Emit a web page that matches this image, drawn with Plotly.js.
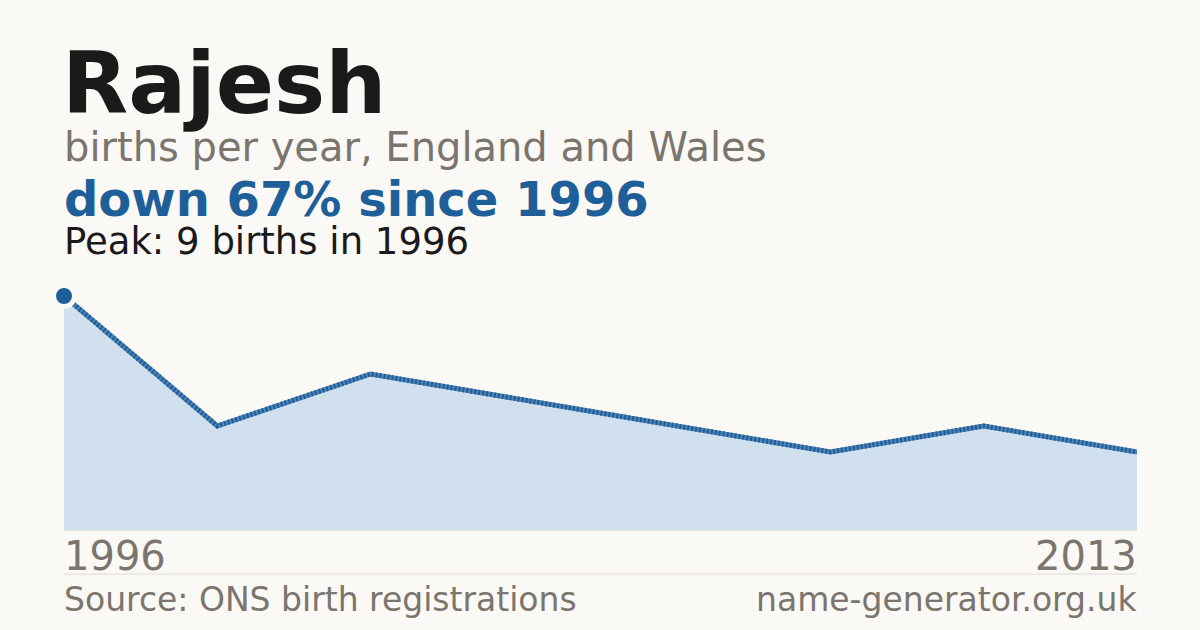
<!DOCTYPE html>
<html>
<head>
<meta charset="utf-8">
<script src="https://cdn.plot.ly/plotly-3.0.1.min.js"></script>
<style>html,body{margin:0;padding:0;background:#faf9f5;}#chart{width:1200px;height:630px;}</style>
</head>
<body>
<div id="chart"></div>
<script>
const nameTitle = "Rajesh";
const subtitle = "births per year, England and Wales";
const changeText = "down 67% since 1996";
const peakText = "Peak: 9 births in 1996";
const firstYear = "1996";
const lastYear = "2013";
const sourceText = "Source: ONS birth registrations";
const siteText = "name-generator.org.uk";
const births = [9, 4, 6, 5, 4, 3, 4, 3];
const idx = births.map((_, i) => i);
const peakIndex = 0;

const L = 64, R = 1137, T = 296, B = 530;
const W = 1200, H = 630;
const px = x => (x - L) / (R - L);
const py = y => (B - y) / (B - T);
const FONT = "DejaVu Sans";
const grey = "#7a756d";
const blue = "#1f5f99";
const bg = "#faf9f5";

const traces = [
  {x: idx, y: births, type: "scatter", mode: "lines", fill: "tozeroy",
   fillcolor: "#d0e0ef", line: {color: "#4f82b5", width: 5}, hoverinfo: "skip", cliponaxis: false},
  {x: idx, y: births, type: "scatter", mode: "lines",
   line: {color: blue, width: 5, dash: "2px,2px"}, hoverinfo: "skip", cliponaxis: false},
  {x: [idx[peakIndex]], y: [births[peakIndex]], type: "scatter", mode: "markers",
   marker: {size: 21, color: blue, line: {color: bg, width: 5}}, hoverinfo: "skip", cliponaxis: false}
];

function ann(text, x, y, size, color, bold, xanchor) {
  return {text: bold ? "<b>" + text + "</b>" : text, x: px(x), y: py(y), xref: "paper", yref: "paper",
    xanchor: xanchor || "left", yanchor: "middle", showarrow: false,
    font: {family: FONT, size: size, color: color}};
}

const layout = {
  width: W, height: H,
  paper_bgcolor: bg, plot_bgcolor: bg,
  margin: {l: L, r: W - R, t: T, b: H - B, pad: 0},
  showlegend: false,
  xaxis: {range: [0, births.length - 1], showgrid: false, zeroline: false, showticklabels: false,
          showline: true, linecolor: "#e8e1d6", linewidth: 1, fixedrange: true},
  yaxis: {range: [0, Math.max(...births)], showgrid: false, zeroline: false, showticklabels: false,
          showline: false, fixedrange: true},
  shapes: [
    {type: "line", xref: "paper", yref: "paper", x0: 0, x1: 1, y0: py(574), y1: py(574),
     line: {color: "#dedad2", width: 1}}
  ],
  annotations: [
    ann(nameTitle, 60, 83, 86, "#1a1a1a", true),
    ann(subtitle, 62, 147, 40, grey, false),
    ann(changeText, 62, 199, 48, blue, true),
    ann(peakText, 62, 241, 37, "#1a1a1a", false),
    ann(firstYear, 62, 556, 40, grey, false),
    ann(lastYear, 1139, 556, 40, grey, false, "right"),
    ann(sourceText, 62, 599, 33, grey, false),
    ann(siteText, 1139, 599, 33, grey, false, "right")
  ]
};

Plotly.newPlot("chart", traces, layout, {displayModeBar: false, staticPlot: true});
</script>
</body>
</html>
